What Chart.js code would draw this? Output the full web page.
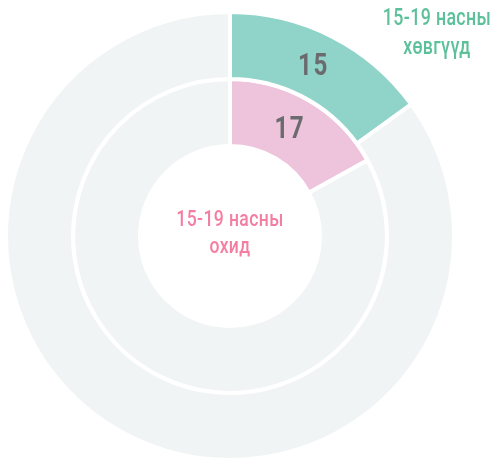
<!DOCTYPE html>
<html>
<head>
<meta charset="utf-8">
<script src="https://cdn.jsdelivr.net/npm/chart.js@4"></script>
<style>
  html, body { margin: 0; padding: 0; background: #fff; }
  #wrap { width: 490px; height: 462px; }
</style>
</head>
<body>
<div id="wrap"><canvas id="chart-hiv"></canvas></div>
<script>
// 15-19 насны хөвгүүд / охид — хувь
const buluguud = ['15-19 насны хөвгүүд', '15-19 насны охид'];
const khuvi = [15, 17];
const busad = khuvi.map(v => 100 - v);

const ongo = ['#8fd3c9', '#eec4dc'];
const saaral = '#f1f4f5';
const FONT = 'Roboto, "Noto Sans", sans-serif';

// нарийсгасан бичвэр (condensed фонт байхгүй тул хэвтээ чиглэлд шахна)
function bich(ctx, s, x, y, sx) {
  ctx.save();
  ctx.translate(x, y);
  ctx.scale(sx, 1);
  ctx.fillText(s, 0, 0);
  ctx.restore();
}

// тоон шошго + тайлбар бичвэр
const shoshgo = {
  id: 'shoshgo',
  afterDraw(chart) {
    const { ctx } = chart;
    ctx.save();
    ctx.textAlign = 'center';
    ctx.textBaseline = 'middle';
    ctx.letterSpacing = '2px';
    chart.data.datasets.forEach((ds, i) => {
      const arc = chart.getDatasetMeta(i).data[0];
      const p = arc.tooltipPosition();
      ctx.fillStyle = '#6b6b6f';
      ctx.font = 'bold 31px ' + FONT;
      bich(ctx, String(ds.data[0]), p.x - 3, p.y + 1, 0.78);
    });
    ctx.letterSpacing = '0.5px';
    ctx.font = '500 24px ' + FONT;
    ctx.fillStyle = '#5cc09b';
    bich(ctx, '15-19 насны', 437, 19, 0.74);
    bich(ctx, 'хөвгүүд', 437, 48, 0.74);
    ctx.font = '500 22.5px ' + FONT;
    ctx.fillStyle = '#f47ea3';
    bich(ctx, '15-19 насны', 230, 220, 0.78);
    bich(ctx, 'охид', 230, 247, 0.78);
    ctx.restore();
  }
};

new Chart(document.getElementById('chart-hiv'), {
  type: 'doughnut',
  data: {
    labels: ['', ''],
    datasets: [
      { label: buluguud[0], data: [khuvi[0], busad[0]], backgroundColor: [ongo[0], saaral] },
      { label: buluguud[1], data: [khuvi[1], busad[1]], backgroundColor: [ongo[1], saaral] },
    ]
  },
  options: {
    responsive: true,
    maintainAspectRatio: false,
    animation: false,
    radius: 224,
    cutout: 90,
    layout: { padding: { left: 0, right: 30, top: 10, bottom: 0 } },
    elements: { arc: { borderColor: '#fff', borderWidth: 4 } },
    plugins: { legend: { display: false }, tooltip: { enabled: false } }
  },
  plugins: [shoshgo]
});
</script>
</body>
</html>
